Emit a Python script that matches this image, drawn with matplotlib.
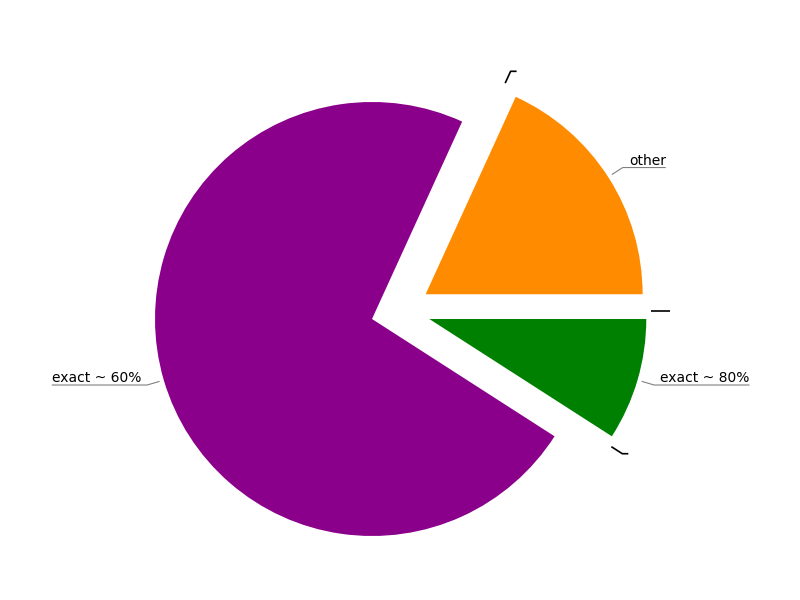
import numpy as np
import matplotlib
matplotlib.use('Agg')
import matplotlib.pyplot as plt

# slices, clockwise from the top boundary (empty ones are separators)
labels = ['', 'other', '', 'exact ~ 80%', '', 'exact ~ 60%']
values = [0, 2, 0, 1, 0, 8]

colors = ['none', '#ff8c00', 'none', '#008000', 'none', '#8b008b']
line_colors = ['black', '#808080', 'black', '#808080', 'black', '#808080']
line_widths = [1.2, 0.8, 1.2, 0.8, 1.2, 0.8]
# apex offset of each wedge, in radius units
shifts = [(0.190, 0.159), (0.247, 0.114), (0.267, 0.035),
          (0.264, 0.0), (0.245, -0.037), (0.0, 0.0)]

fig = plt.figure(figsize=(8, 6), dpi=100)
ax = fig.add_axes([0, 0, 1, 1])

start = 360 * values[1] / sum(values)
wedges, _ = ax.pie(values, colors=colors, startangle=start, counterclock=False)

ax.set_xlim(-1.714, 1.972)
ax.set_ylim(-1.295, 1.470)
ax.axis('off')

fig.canvas.draw()
renderer = fig.canvas.get_renderer()
inv = ax.transData.inverted()

for w, lab, lc, lw, (sx, sy) in zip(wedges, labels, line_colors, line_widths, shifts):
    w.set_center((sx, sy))
    ang = np.deg2rad((w.theta1 + w.theta2) / 2)
    d = np.array([np.cos(ang), np.sin(ang)])
    c = np.array([sx, sy])
    p = c + 1.02 * d
    q = c + 1.08 * d
    side = 1 if d[0] >= 0 else -1
    t = ax.annotate(lab, q, xytext=(side * 6, 0), textcoords='offset pixels',
                    ha='left' if side > 0 else 'right', va='bottom',
                    fontsize=10, color='black')
    qx, qy = ax.transData.transform(q)
    if lab:
        bb = t.get_window_extent(renderer)
        end_px = bb.x1 if side > 0 else bb.x0
    else:
        end_px = qx + side * 6
    end = inv.transform((end_px, qy))
    ax.plot([p[0], q[0], end[0]], [p[1], q[1], end[1]], color=lc, lw=lw,
            solid_capstyle='butt')

fig.savefig('out.png', dpi=100)
